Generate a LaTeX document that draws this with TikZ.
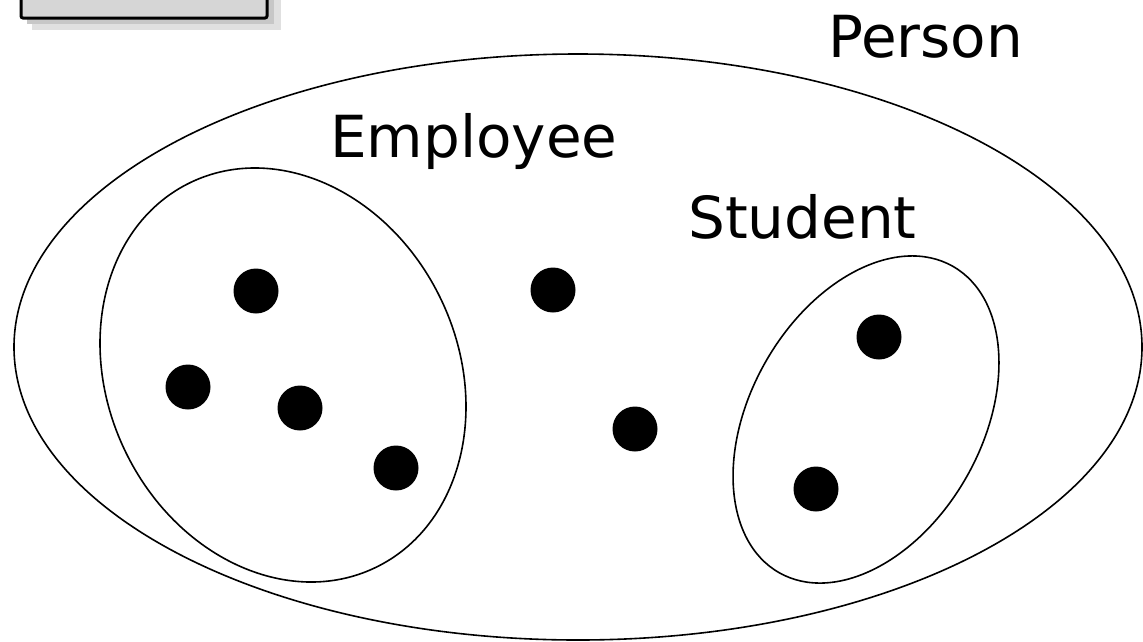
\documentclass[tikz,border=0pt]{standalone}
\usepackage{fontspec}
\setmainfont{DejaVu Sans}
\usepackage{tikz}
\usetikzlibrary{calc,backgrounds}
\tikzset{
  setlabel/.style={anchor=base west,inner sep=0pt,font=\fontsize{58}{70}\selectfont},
  member/.style={circle,fill=black,inner sep=0pt,minimum size=45pt},
  setline/.style={draw=black,line width=1.6pt}
}
\begin{document}
\begin{tikzpicture}[x=1pt,y=1pt]
\useasboundingbox (0,0) rectangle (1143,-641);
\clip (0,0) rectangle (1143,-641);
% box cut at the top
\fill[black!12] (32,10) rectangle (281,-30);
\fill[black!22] (27,10) rectangle (274,-24);
\draw[fill=black!16,line width=3pt,rounded corners=2pt] (21,10) rectangle (267,-18);
% sets
\draw[setline] (578,-347) ellipse [x radius=564,y radius=293];
\draw[setline,rotate around={25.6:(283,-375)}] (283,-375) ellipse [x radius=175.2,y radius=213.6];
\draw[setline,rotate around={-29.5:(866,-419.5)}] (866,-419.5) ellipse [x radius=115.8,y radius=176.1];
\node[setlabel] (person) at (828,-57) {Person};
\node[setlabel] (employee) at (330,-157) {Employee};
\node[setlabel] (student) at (688,-238) {Student};
% members
\node[member] (e1) at (256,-291) {};
\node[member] (e2) at (188,-387) {};
\node[member] (e3) at (300,-408) {};
\node[member] (e4) at (396,-468) {};
\node[member] (p1) at (553,-290) {};
\node[member] (p2) at (635,-429) {};
\node[member] (s1) at (879,-337) {};
\node[member] (s2) at (816,-489) {};
\end{tikzpicture}
\end{document}
